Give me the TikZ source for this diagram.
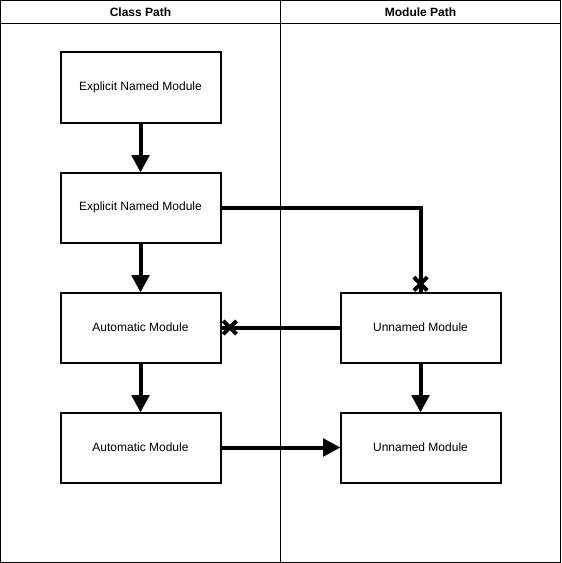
\documentclass[tikz,border=0pt]{standalone}
\usepackage{fontspec}
\setmainfont{Liberation Sans}
\usetikzlibrary{arrows.meta, positioning, shapes.misc}

\begin{document}
\begin{tikzpicture}[x=0.75pt, y=-0.75pt,
                    box/.style={draw, line width=1.5pt, outer sep=0pt, minimum width=120pt, minimum height=52.5pt, inner sep=0pt, font=\fontsize{9}{11}\selectfont},
                    lanehead/.style={font=\bfseries\fontsize{9}{11}\selectfont},
                    flow/.style={line width=3pt, -{Triangle[width=13pt, length=13pt]}},
                    nogo/.style={cross out, draw, line width=3pt, minimum size=7pt, inner sep=0pt}]
                    % swimlanes
                    \draw[line width=0.75pt] (0,0) rectangle (560,562);
                    \draw[line width=0.75pt] (0,23) -- (560,23);
                    \draw[line width=0.75pt] (280,0) -- (280,562);
                    \node[lanehead](cp) at (140,11.5){Class Path};
                    \node[lanehead](mp) at (420,11.5){Module Path};
                    % class path
                    \node[box](e1) at (140,87){Explicit Named Module};
                    \node[box, below=37.5pt of e1](e2){Explicit Named Module};
                    \node[box, below=37.5pt of e2](a1){Automatic Module};
                    \node[box, below=37.5pt of a1](a2){Automatic Module};
                    % module path
                    \node[box, right=90pt of a1](u1){Unnamed Module};
                    \node[box, below=37.5pt of u1](u2){Unnamed Module};
                    \draw[flow] (e1) -- (e2);
                    \draw[flow] (e2) -- (a1);
                    \draw[flow] (a1) -- (a2);
                    \draw[flow] (u1) -- (u2);
                    \draw[flow] (a2) -- (u2);
                    \draw[line width=3pt] (e2.east) -| (u1.north);
                    \draw[line width=3pt] (u1.west) -- (a1.east);
                    \node[nogo](x1) at ([yshift=6.5pt]u1.north){};
                    \node[nogo](x2) at ([xshift=7pt]a1.east){};
                \end{tikzpicture}
\end{document}
